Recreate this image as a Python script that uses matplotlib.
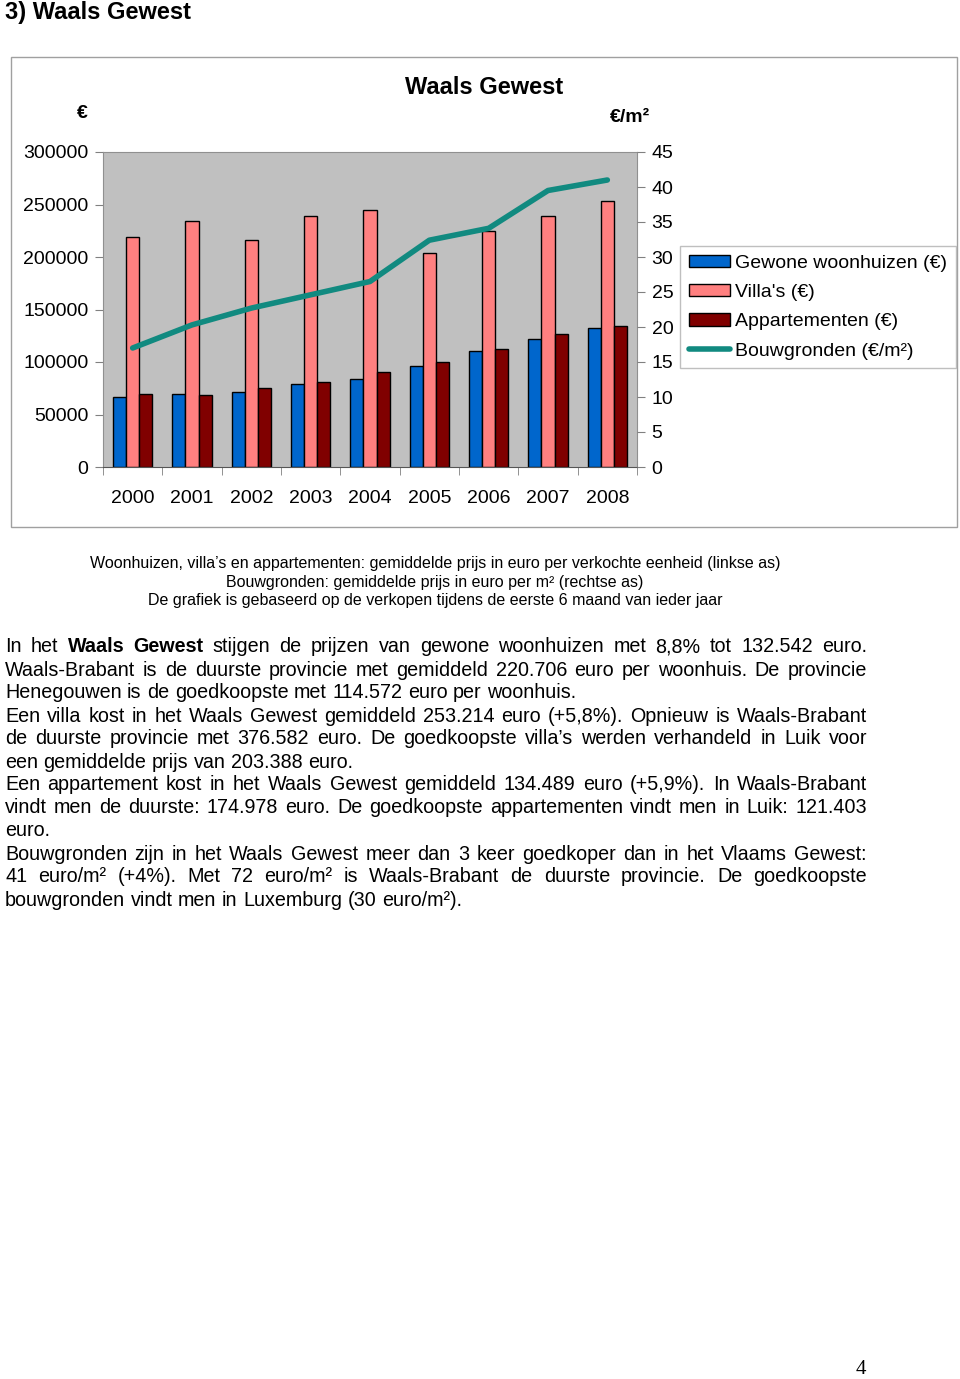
import numpy as np
import matplotlib
matplotlib.use('Agg')
import matplotlib.pyplot as plt
from matplotlib.patches import Rectangle, Patch
from matplotlib.lines import Line2D

plt.rcParams['font.family'] = ['Liberation Sans', 'DejaVu Sans']

# Data
years = ['2000', '2001', '2002', '2003', '2004', '2005', '2006', '2007', '2008']
woonhuizen = [66700, 69500, 71700, 79000, 83800, 96200, 110500, 121600, 132542]
villas = [219000, 234000, 216000, 238700, 245000, 203500, 224800, 239000, 253214]
appartementen = [69200, 68600, 75000, 80700, 90200, 99700, 112400, 126700, 134489]
bouwgronden = [17.0, 20.3, 22.7, 24.6, 26.5, 32.4, 34.1, 39.5, 41.0]

left_ticks = [0, 50000, 100000, 150000, 200000, 250000, 300000]
right_ticks = [0, 5, 10, 15, 20, 25, 30, 35, 40, 45]

W, H = 960, 1379
fig = plt.figure(figsize=(W / 100, H / 100), dpi=100)


def fx(px):
    return px / W


def fy(py):
    return 1 - py / H


# outer chart box
fig.patches.append(Rectangle((fx(11), fy(527)), fx(957) - fx(11), fy(57) - fy(527),
                             transform=fig.transFigure, fill=False,
                             edgecolor='#a0a0a0', linewidth=1))

ax = fig.add_axes([fx(103), fy(467), fx(637) - fx(103), fy(152) - fy(467)])
ax.set_facecolor('#c0c0c0')

x = np.arange(len(years))
bw = 0.22
ax.bar(x - bw, woonhuizen, bw, color='#0066cc', edgecolor='black', linewidth=1)
ax.bar(x, villas, bw, color='#ff8080', edgecolor='black', linewidth=1)
ax.bar(x + bw, appartementen, bw, color='#800000', edgecolor='black', linewidth=1)

ax.set_xlim(-0.5, len(years) - 0.5)
ax.set_ylim(0, 300000)
ax.set_yticks(left_ticks)
ax.set_yticklabels([str(v) for v in left_ticks])
ax.set_xticks(x)
ax.set_xticklabels(years)
ax.set_xticks(np.arange(-0.5, len(years), 1), minor=True)
ax.tick_params(axis='x', which='major', length=0, pad=16.5, labelsize=14)
ax.tick_params(axis='x', which='minor', length=6, color='#808080', direction='out')
ax.tick_params(axis='y', length=6, color='#808080', pad=4.5, labelsize=14)
for s in ['left', 'top', 'right']:
    ax.spines[s].set_color('#909090')
ax.spines['bottom'].set_color('#555555')

ax2 = ax.twinx()
ax2.plot(x, bouwgronden, color='#118a80', linewidth=4, solid_capstyle='round')
ax2.set_ylim(0, 45)
ax2.set_yticks(right_ticks)
ax2.set_yticklabels([str(v) for v in right_ticks])
ax2.tick_params(axis='y', length=6, color='#808080', pad=4.5, labelsize=14)
for s in ax2.spines.values():
    s.set_visible(False)

fig.text(fx(484), fy(87), 'Waals Gewest', ha='center', va='center',
         fontsize=17, fontweight='bold')
fig.text(fx(82), fy(114), '€', ha='center', va='center', fontsize=14, fontweight='bold')
fig.text(fx(630), fy(118), '€/m²', ha='center', va='center', fontsize=14, fontweight='bold')

handles = [Patch(facecolor='#0066cc', edgecolor='black'),
           Patch(facecolor='#ff8080', edgecolor='black'),
           Patch(facecolor='#800000', edgecolor='black'),
           Line2D([0], [0], color='#118a80', linewidth=4, solid_capstyle='round')]
labels = ['Gewone woonhuizen (€)', "Villa's (€)", 'Appartementen (€)', 'Bouwgronden (€/m²)']
leg = fig.legend(handles, labels, loc='upper left', bbox_to_anchor=(fx(680), fy(246)),
                 fontsize=14, frameon=True, fancybox=False, edgecolor='#b0b0b0',
                 borderaxespad=0, borderpad=0.45, handlelength=2.1, handleheight=0.6,
                 handletextpad=0.3, labelspacing=0.63)
leg.get_frame().set_linewidth(1)

fig.text(fx(5), fy(12), '3) Waals Gewest', ha='left', va='center',
         fontsize=17, fontweight='bold')

captions = ['Woonhuizen, villa’s en appartementen: gemiddelde prijs in euro per verkochte eenheid (linkse as)',
            'Bouwgronden: gemiddelde prijs in euro per m² (rechtse as)',
            'De grafiek is gebaseerd op de verkopen tijdens de eerste 6 maand van ieder jaar']
for cy, c in zip([564, 582, 601], captions):
    fig.text(fx(435), fy(cy), c, ha='center', va='center', fontsize=11.5)

# body text: (line, justified); bold segments between |
body = [
    ('In het |Waals Gewest| stijgen de prijzen van gewone woonhuizen met 8,8% tot 132.542 euro.', True),
    ('Waals-Brabant is de duurste provincie met gemiddeld 220.706 euro per woonhuis. De provincie', True),
    ('Henegouwen is de goedkoopste met 114.572 euro per woonhuis.', False),
    ('Een villa kost in het Waals Gewest gemiddeld 253.214 euro (+5,8%).  Opnieuw is Waals-Brabant', True),
    ('de duurste provincie met 376.582 euro. De goedkoopste villa’s werden verhandeld in Luik voor', True),
    ('een gemiddelde prijs van 203.388 euro.', False),
    ('Een appartement kost in het Waals Gewest gemiddeld 134.489 euro (+5,9%). In Waals-Brabant', True),
    ('vindt men de duurste: 174.978 euro. De goedkoopste appartementen vindt men in Luik: 121.403', True),
    ('euro.', False),
    ('Bouwgronden zijn in het Waals Gewest meer dan 3 keer goedkoper dan in het Vlaams Gewest:', True),
    ('41 euro/m² (+4%). Met 72 euro/m² is Waals-Brabant de duurste provincie. De goedkoopste', True),
    ('bouwgronden vindt men in Luxemburg (30 euro/m²).', False),
]
renderer = fig.canvas.get_renderer()
x0, x1 = 5, 867
body_size = 14.2
for i, (line, just) in enumerate(body):
    cy = 647 + 23 * i
    words = []
    bold = False
    for seg in line.split('|'):
        for w in seg.split():
            words.append((w, bold))
        bold = not bold
    texts = []
    widths = []
    for w, b in words:
        t = fig.text(0, fy(cy), w, ha='left', va='center', fontsize=body_size,
                     fontweight='bold' if b else 'normal')
        texts.append(t)
        widths.append(t.get_window_extent(renderer).width)
    if just and len(words) > 1:
        gap = (x1 - x0 - sum(widths)) / (len(words) - 1)
    else:
        gap = body_size * 100 / 72 * 0.278
    px = x0
    for t, wd in zip(texts, widths):
        t.set_x(fx(px))
        px += wd + gap

fig.text(fx(861), fy(1369), '4', ha='center', va='center', fontsize=15,
         family='Liberation Serif')

fig.savefig('out.png', dpi=100)
